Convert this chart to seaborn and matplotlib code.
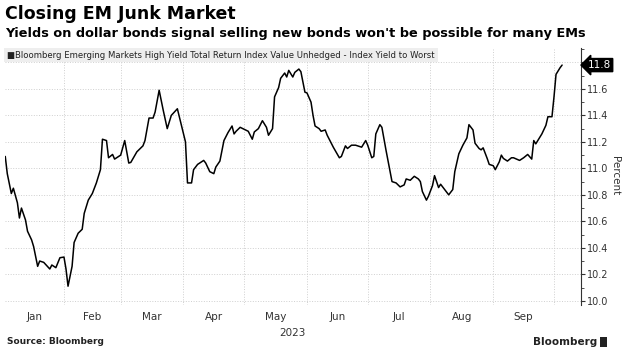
import pandas as pd
import matplotlib.pyplot as plt
import matplotlib.dates as mdates
import matplotlib.transforms as mtransforms
from matplotlib.ticker import MultipleLocator, FixedLocator, NullFormatter
import seaborn as sns

# Datos (dias desde el 1 de enero de 2023, rendimiento en %)
dias = [2, 3, 5, 6, 8, 9, 10, 12, 13, 15, 16, 18, 19, 21, 24, 25, 27, 29, 31, 32,
        33, 35, 36, 38, 40, 41, 43, 45, 47, 49, 50, 52, 53, 55, 56, 59, 61, 63, 64, 67,
        70, 71, 73, 75, 76, 78, 80, 82, 84, 87, 89, 91, 92, 94, 95, 97, 100, 101, 103, 105,
        106, 108, 110, 112, 114, 115, 116, 118, 120, 122, 124, 125, 127, 129, 131, 132, 134, 135, 137, 138,
        140, 141, 142, 144, 145, 147, 148, 150, 151, 153, 154, 155, 157, 158, 160, 161, 163, 164, 167, 168,
        170, 171, 173, 175, 176, 178, 180, 181, 183, 184, 185, 187, 188, 190, 193, 195, 196, 197, 199, 200,
        202, 204, 206, 207, 208, 210, 211, 213, 214, 216, 217, 219, 220, 221, 223, 224, 226, 228, 230, 231,
        233, 234, 236, 237, 238, 240, 241, 243, 244, 246, 247, 248, 250, 252, 253, 256, 258, 260, 262, 263,
        264, 267, 269, 270, 272, 273, 274, 276, 277]
rendimiento = [11.09, 10.96, 10.81, 10.85, 10.74, 10.625, 10.70, 10.61, 10.525, 10.46, 10.41, 10.26, 10.30, 10.29, 10.24, 10.27, 10.25, 10.325, 10.33, 10.24,
               10.11, 10.26, 10.44, 10.51, 10.54, 10.66, 10.76, 10.81, 10.89, 10.99, 11.22, 11.21, 11.08, 11.105, 11.07, 11.10, 11.21, 11.04, 11.045, 11.125,
               11.17, 11.21, 11.38, 11.38, 11.425, 11.59, 11.44, 11.30, 11.40, 11.45, 11.325, 11.20, 10.89, 10.89, 10.99, 11.03, 11.06, 11.04, 10.975, 10.96,
               11.01, 11.055, 11.21, 11.27, 11.32, 11.26, 11.28, 11.31, 11.295, 11.28, 11.22, 11.275, 11.30, 11.36, 11.31, 11.25, 11.30, 11.54, 11.61, 11.68,
               11.72, 11.69, 11.74, 11.69, 11.725, 11.75, 11.73, 11.575, 11.57, 11.50, 11.40, 11.32, 11.30, 11.28, 11.29, 11.25, 11.19, 11.16, 11.08, 11.09,
               11.17, 11.15, 11.175, 11.175, 11.17, 11.16, 11.21, 11.175, 11.08, 11.09, 11.26, 11.33, 11.31, 11.14, 10.90, 10.89, 10.875, 10.86, 10.875, 10.92,
               10.91, 10.94, 10.92, 10.90, 10.825, 10.76, 10.79, 10.87, 10.945, 10.855, 10.88, 10.84, 10.82, 10.80, 10.84, 10.975, 11.11, 11.175, 11.23, 11.33,
               11.29, 11.19, 11.15, 11.14, 11.155, 11.075, 11.03, 11.02, 10.99, 11.05, 11.10, 11.075, 11.055, 11.08, 11.08, 11.06, 11.08, 11.105, 11.07, 11.21,
               11.185, 11.26, 11.325, 11.39, 11.39, 11.54, 11.71, 11.76, 11.78]
meses = ["Jan", "Feb", "Mar", "Apr", "May", "Jun", "Jul", "Aug", "Sep"]
yticks = [10.0, 10.2, 10.4, 10.6, 10.8, 11.0, 11.2, 11.4, 11.6, 11.8]

titulo = "Closing EM Junk Market"
subtitulo = "Yields on dollar bonds signal selling new bonds won't be possible for many EMs"
leyenda = "Bloomberg Emerging Markets High Yield Total Return Index Value Unhedged - Index Yield to Worst"

df = pd.DataFrame({
    "fecha": pd.Timestamp("2023-01-01") + pd.to_timedelta(dias, unit="D"),
    "yield": rendimiento,
})

sns.set_style("white")
plt.rcParams["font.family"] = ["DejaVu Sans"]

fig = plt.figure(figsize=(6.25, 3.56), dpi=100)
ax = fig.add_axes([5 / 625, 1 - 305 / 356, 576 / 625, 257 / 356])

sns.lineplot(data=df, x="fecha", y="yield", ax=ax, color="black", linewidth=1.1)

# Limites de los ejes
xmin = pd.Timestamp("2023-01-02 21:00")
xmax = pd.Timestamp("2023-10-14 08:00")
ax.set_xlim(xmin, xmax)
ax.set_ylim(9.968, 11.909)

# Eje X: lineas al inicio de cada mes, etiquetas en el centro
inicios = pd.date_range("2023-01-01", "2023-10-01", freq="MS")
centros = [max(s, xmin) + (e - max(s, xmin)) / 2 for s, e in zip(inicios[:-1], inicios[1:])]
ax.xaxis.set_major_locator(FixedLocator(mdates.date2num(inicios[1:])))
ax.xaxis.set_major_formatter(NullFormatter())
ax.xaxis.set_minor_locator(FixedLocator(mdates.date2num(centros)))
ax.set_xticklabels(meses, minor=True)
ax.tick_params(axis="x", which="both", length=0, labelsize=7.5, labelcolor="#333333", pad=5)
ax.set_xlabel("")

# Eje Y a la derecha
ax.yaxis.tick_right()
ax.set_yticks(yticks)
ax.set_yticklabels([f"{v:.1f}" for v in yticks[:-1]] + [""])
ax.yaxis.set_minor_locator(MultipleLocator(0.1))
ax.tick_params(axis="y", which="major", length=3, width=0.8, color="#333333",
               labelsize=7, labelcolor="#333333", pad=1)
ax.tick_params(axis="y", which="minor", length=2, width=0.6, color="#333333", right=True)
ax.set_ylabel("")
fig.text(615 / 625, 1 - 176 / 356, "Percent", rotation=270, fontsize=7.5, color="#333333",
         ha="center", va="center")

ax.grid(True, which="major", axis="both", color="#cfcfcf", linestyle=":", linewidth=0.7)
for lado in ["left", "top", "bottom"]:
    ax.spines[lado].set_visible(False)
ax.spines["right"].set_color("#333333")
ax.spines["right"].set_linewidth(0.8)

# Etiqueta del ultimo valor
trans = mtransforms.blended_transform_factory(ax.transAxes, ax.transData)
ax.text(1.012, rendimiento[-1], f"{rendimiento[-1]:.1f}", transform=trans, ha="left", va="center",
        fontsize=7.5, color="white",
        bbox=dict(boxstyle="larrow,pad=0.15", fc="black", ec="black"), zorder=5, clip_on=False)

# Leyenda estilo Bloomberg
ax.text(0.004, 1 - 7 / 257, "\u25a0" + leyenda, transform=ax.transAxes, ha="left", va="center",
        fontsize=6.15, color="#222222",
        bbox=dict(boxstyle="square,pad=0.35", fc="#eeeeee", ec="none"))

# Titulos
fig.text(5 / 625, 1 - 14 / 356, titulo, fontsize=12.5, fontweight="bold", color="black",
         va="center", ha="left")
fig.text(5 / 625, 1 - 33 / 356, subtitulo, fontsize=9.3, fontweight="bold", color="black",
         va="center", ha="left")
fig.text(292 / 625, 1 - 333 / 356, "2023", fontsize=7.5, color="#333333", ha="center", va="center")

# Pie
fig.text(7 / 625, 1 - 342 / 356, "Source: Bloomberg", fontsize=6.5, fontweight="bold",
         color="#222222", ha="left", va="center")
fig.text(597 / 625, 1 - 342 / 356, "Bloomberg", fontsize=7.5, fontweight="bold",
         color="#222222", ha="right", va="center")
fig.patches.append(plt.Rectangle((600 / 625, 1 - 347 / 356), 7 / 625, 10 / 356,
                                 transform=fig.transFigure, fc="#222222", ec="none"))

fig.savefig("out.png", dpi=100)
